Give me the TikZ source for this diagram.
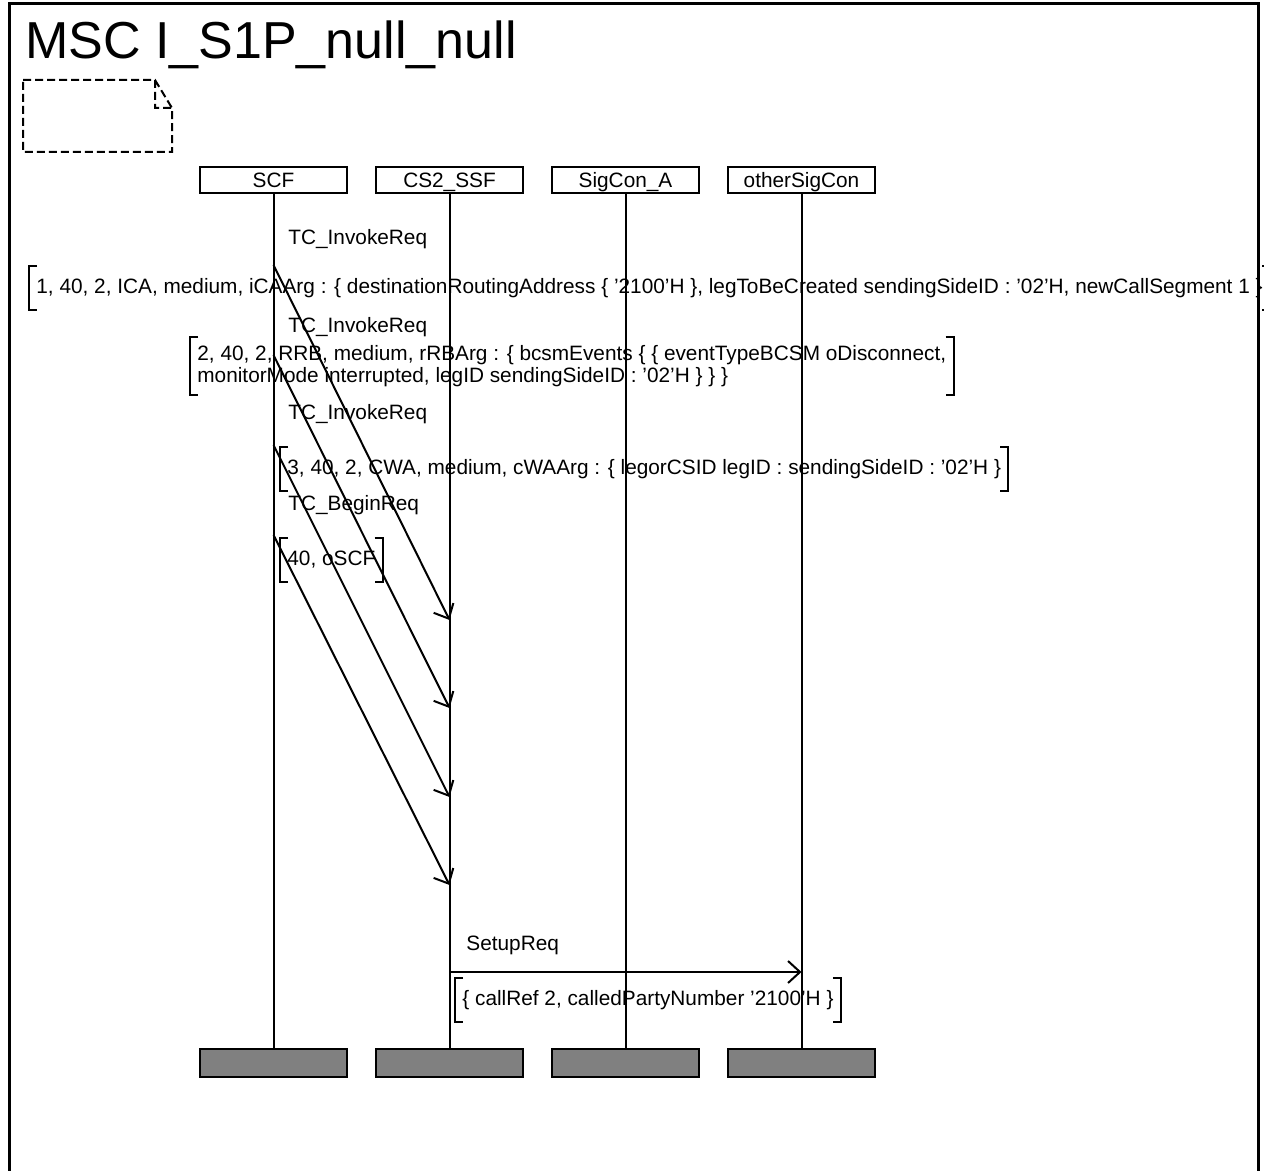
\documentclass[tikz,border=0pt]{standalone}
\usepackage{fontspec}
\setmainfont{Liberation Sans}
\usetikzlibrary{arrows.meta,positioning}
\definecolor{EndGray}{HTML}{808080}
\newcommand\msgfont{\fontsize{10.4pt}{9pt}\selectfont}
\newcommand\brk[1]{\draw[line width=1pt] (#1.north west) ++(8,0) -- (#1.north west) -- (#1.south west) -- ++(8,0)
  (#1.north east) ++(-8,0) -- (#1.north east) -- (#1.south east) -- ++(-8,0);}

\begin{document}
\begin{tikzpicture}[x=0.5pt,y=-0.5pt,
    inst/.style={draw,line width=1pt,minimum width=73.5pt,minimum height=13pt,inner sep=0pt,text height=7.6pt,text depth=0pt,font=\msgfont},
    endb/.style={draw,line width=1pt,fill=EndGray,minimum width=73.5pt,minimum height=14pt,inner sep=0pt},
    life/.style={line width=1pt},
    lbl/.style={anchor=base west,inner sep=0pt,font=\msgfont},
    par/.style={anchor=west,align=left,inner xsep=3.5pt,inner ysep=4pt,minimum height=22pt,font=\msgfont},
    msg/.style={line width=1pt,-{Straight Barb[length=6pt,width=11pt]}}]
  \useasboundingbox (0,0) rectangle (1264,1171);
  % frame, title, comment symbol
  \draw[line width=1.5pt] (9,1180) -- (9,4) -- (1258,4) -- (1258,1180);
  \node[anchor=base west,inner sep=0pt,font=\fontsize{26pt}{30pt}\selectfont] (title) at (25,59) {MSC I\_S1P\_null\_null};
  \draw[line width=1pt,dash pattern=on 4pt off 2pt] (23,80) -- (155,80) -- (172,108) -- (172,152) -- (23,152) -- cycle
    (155,80) -- (155,108) -- (172,108);

  % instances
  \node[inst] (scf) at (273.5,180) {SCF};
  \node[inst,right=13.5pt of scf] (ssf) {CS2\_SSF};
  \node[inst,right=13.5pt of ssf] (siga) {SigCon\_A};
  \node[inst,right=13.5pt of siga] (sigo) {otherSigCon};
  \node[endb,below=427pt of scf] (scfend) {};
  \node[endb,below=427pt of ssf] (ssfend) {};
  \node[endb,below=427pt of siga] (sigaend) {};
  \node[endb,below=427pt of sigo] (sigoend) {};
  \draw[life] (scf) -- (scfend);
  \draw[life] (ssf) -- (ssfend);
  \draw[life] (siga) -- (sigaend);
  \draw[life] (sigo) -- (sigoend);

  % messages
  \coordinate (m1a) at (scf |- 0,265);  \coordinate (m1b) at (ssf |- 0,620);
  \coordinate (m2a) at (scf |- 0,355);  \coordinate (m2b) at (ssf |- 0,708);
  \coordinate (m3a) at (scf |- 0,445);  \coordinate (m3b) at (ssf |- 0,797);
  \coordinate (m4a) at (scf |- 0,535);  \coordinate (m4b) at (ssf |- 0,885);
  \coordinate (m5a) at (ssf |- 0,972);  \coordinate (m5b) at (sigo |- 0,972);
  \draw[msg] (m1a) -- (m1b);
  \draw[msg] (m2a) -- (m2b);
  \draw[msg] (m3a) -- (m3b);
  \draw[msg] (m4a) -- (m4b);
  \draw[msg] (m5a) -- (m5b);

  \node[lbl] (l1) at (288,245) {TC\_InvokeReq};
  \node[lbl] (l2) at (288,333) {TC\_InvokeReq};
  \node[lbl] (l3) at (288,420) {TC\_InvokeReq};
  \node[lbl] (l4) at (288,510) {TC\_BeginReq};
  \node[lbl] (l5) at (466,950) {SetupReq};

  \node[par] (p1) at (29,288) {1, 40, 2, ICA, medium, iCAArg : \{ destinationRoutingAddress \{ '2100'H \}, legToBeCreated sendingSideID : '02'H, newCallSegment 1 \}};
  \node[par,minimum height=26.5pt] (p2) at (190,366) {2, 40, 2, RRB, medium, rRBArg : \{ bcsmEvents \{ \{ eventTypeBCSM oDisconnect,\\monitorMode interrupted, legID sendingSideID : '02'H \} \} \}};
  \node[par] (p3) at (280,469) {3, 40, 2, CWA, medium, cWAArg : \{ legorCSID legID : sendingSideID : '02'H \}};
  \node[par] (p4) at (280,560) {40, oSCF};
  \node[par] (p5) at (455,1000) {\{ callRef 2, calledPartyNumber '2100'H \}};
  \brk{p1} \brk{p2} \brk{p3} \brk{p4} \brk{p5}
\end{tikzpicture}
\end{document}
